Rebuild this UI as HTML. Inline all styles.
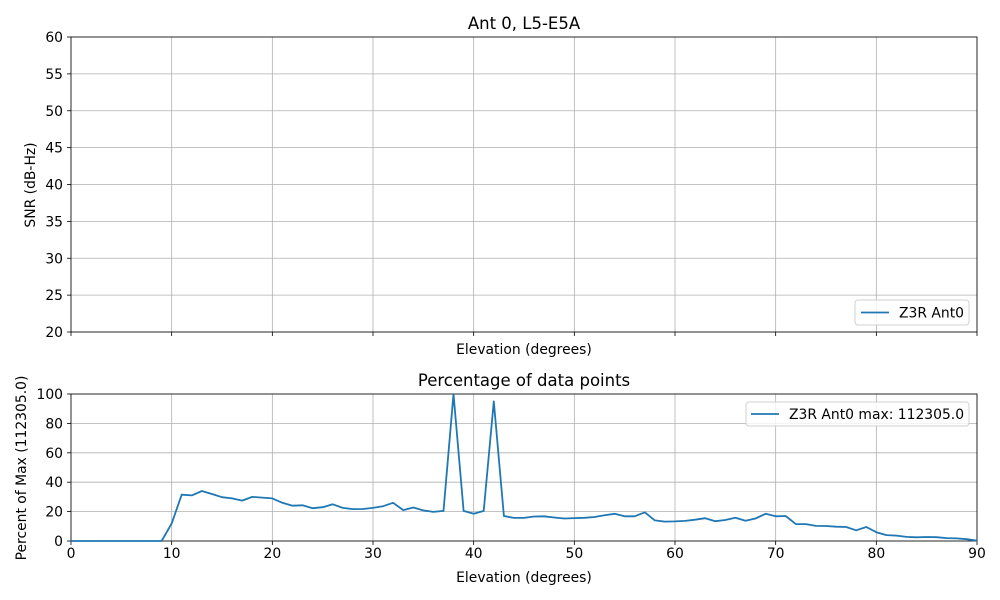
<!DOCTYPE html>
<html><head><meta charset="utf-8"><style>
html,body{margin:0;padding:0;background:#fff}
svg{display:block;font-family:"DejaVu Sans","Liberation Sans",sans-serif}
</style></head><body>
<svg id="s" width="1000" height="600" xmlns="http://www.w3.org/2000/svg">
<rect width="1000" height="600" fill="#fff"/>
<g id="grid" stroke="#b0b0b0" stroke-width="0.8"></g>
<g id="ticks" stroke="#000" stroke-width="0.8"></g>
<g id="labels" font-size="13.9" fill="#000"></g>
<rect x="71" y="37" width="906" height="295" fill="none" stroke="#000" stroke-width="0.8"/>
<rect x="71" y="394" width="906" height="147" fill="none" stroke="#000" stroke-width="0.8"/>
<text x="524" y="29" font-size="16.5" text-anchor="middle">Ant 0, L5-E5A</text>
<text x="524" y="386" font-size="16.5" text-anchor="middle">Percentage of data points</text>
<text x="524" y="354" font-size="13.9" text-anchor="middle">Elevation (degrees)</text>
<text x="524" y="582" font-size="13.9" text-anchor="middle">Elevation (degrees)</text>
<text transform="translate(35,185) rotate(-90)" font-size="13.9" text-anchor="middle">SNR (dB-Hz)</text>
<text transform="translate(26,468) rotate(-90)" font-size="13.9" text-anchor="middle">Percent of Max (112305.0)</text>
<polyline id="line" fill="none" stroke="#1f77b4" stroke-width="1.8" stroke-linejoin="round"/>
<rect x="855" y="300" width="114" height="25" rx="3" fill="#fff" fill-opacity="0.8" stroke="#d0d0d0"/>
<line x1="861" y1="312.5" x2="889" y2="312.5" stroke="#1f77b4" stroke-width="1.8"/>
<text x="899" y="317.5" font-size="13.9">Z3R Ant0</text>
<rect x="746" y="402" width="223" height="24" rx="3" fill="#fff" fill-opacity="0.8" stroke="#d0d0d0"/>
<line x1="751" y1="414" x2="779" y2="414" stroke="#1f77b4" stroke-width="1.8"/>
<text x="789" y="419" font-size="13.9">Z3R Ant0 max: 112305.0</text>
</svg>
<script>
var NS="http://www.w3.org/2000/svg";
function el(p,t,a,txt){var e=document.createElementNS(NS,t);for(var k in a)e.setAttribute(k,a[k]);if(txt!==undefined)e.textContent=txt;document.getElementById(p).appendChild(e);}
var X=function(d){return 71+d*906/90;};
for(var d=0;d<=90;d+=10){var x=X(d);
 el("grid","line",{x1:x,y1:37,x2:x,y2:332});el("grid","line",{x1:x,y1:394,x2:x,y2:541});
 el("ticks","line",{x1:x,y1:332,x2:x,y2:336});el("ticks","line",{x1:x,y1:541,x2:x,y2:545});
 el("labels","text",{x:x,y:558,"text-anchor":"middle"},d);}
for(var v=20;v<=60;v+=5){var y=332-(v-20)*295/40;
 el("grid","line",{x1:71,y1:y,x2:977,y2:y});el("ticks","line",{x1:67,y1:y,x2:71,y2:y});
 el("labels","text",{x:63,y:y+5,"text-anchor":"end"},v);}
for(var v=0;v<=100;v+=20){var y=541-v*1.47;
 el("grid","line",{x1:71,y1:y,x2:977,y2:y});el("ticks","line",{x1:67,y1:y,x2:71,y2:y});
 el("labels","text",{x:63,y:y+5,"text-anchor":"end"},v);}
var data=[0,0,0,0,0,0,0,0,0,0,12,31.5,31,34,32,29.8,29,27.5,30,29.5,29,26,24,24.3,22.3,23,25,22.5,21.7,21.8,22.5,23.7,26,21,22.8,20.8,19.8,20.5,100,20.5,18.5,20.5,95,17,15.7,15.7,16.7,16.8,16,15.3,15.6,15.8,16.3,17.5,18.5,16.8,16.8,19.5,14,13.2,13.3,13.7,14.5,15.5,13.5,14.3,15.8,13.8,15.3,18.5,16.8,17,11.5,11.5,10.3,10.2,9.7,9.5,7.3,9.5,6,4,3.7,2.8,2.5,2.7,2.6,2,1.8,1.2,0.2];
document.getElementById("line").setAttribute("points",data.map(function(v,i){return X(i).toFixed(1)+","+(541-v*1.47).toFixed(1);}).join(" "));
</script>
</body></html>
